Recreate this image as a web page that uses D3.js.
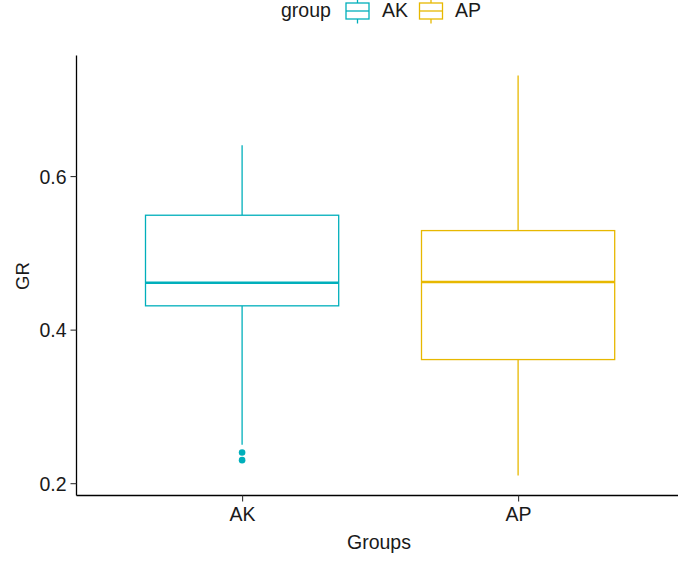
<!DOCTYPE html>
<html>
<head>
<meta charset="utf-8">
<script src="https://cdn.jsdelivr.net/npm/d3@7"></script>
<style>
  html, body { margin: 0; padding: 0; background: #fff; }
  svg { display: block; font-family: "Liberation Sans", Arial, sans-serif; }
</style>
</head>
<body>
<svg id="chart" width="678" height="562"></svg>
<script>
// ---- data ----
const categories   = ["AK", "AP"];
const lowerWhisker = [0.25, 0.21];
const q1           = [0.431, 0.361];
const median       = [0.461, 0.462];
const q3           = [0.549, 0.529];
const upperWhisker = [0.640, 0.731];
const outliersAK   = [0.24, 0.23];
const outliersAP   = [];
const outliers     = [outliersAK, outliersAP];
const colors       = ["#00AFBB", "#E7B800"];
const yTicks       = [0.2, 0.4, 0.6];
const xTitle = "Groups", yTitle = "GR", legendTitle = "group";

// ---- layout ----
const svg = d3.select("#chart");
const panel = { left: 76.5, right: 683.7, top: 55.5, bottom: 495.5 };

const allVals = [].concat(lowerWhisker, upperWhisker, ...outliers);
const vmin = d3.min(allVals), vmax = d3.max(allVals);
const ex = (vmax - vmin) * 0.05;
const y = d3.scaleLinear().domain([vmin - ex, vmax + ex]).range([panel.bottom, panel.top]);
const x = d3.scalePoint().domain(categories).range([panel.left, panel.right]).padding(0.6);
const boxW = x.step() * 0.7;

const boxes = categories.map((c, i) => ({
  cat: c, lo: lowerWhisker[i], q1: q1[i], med: median[i], q3: q3[i], hi: upperWhisker[i],
  out: outliers[i], color: colors[i]
}));

// ---- boxes ----
const g = svg.append("g");
boxes.forEach(b => {
  const cx = x(b.cat);
  const gg = g.append("g").attr("stroke", b.color).attr("fill", "none");
  gg.append("line").attr("x1", cx).attr("x2", cx).attr("y1", y(b.hi)).attr("y2", y(b.q3)).attr("stroke-width", 1.3);
  gg.append("line").attr("x1", cx).attr("x2", cx).attr("y1", y(b.q1)).attr("y2", y(b.lo)).attr("stroke-width", 1.3);
  gg.append("rect").attr("x", cx - boxW / 2).attr("y", y(b.q3))
    .attr("width", boxW).attr("height", y(b.q1) - y(b.q3)).attr("fill", "#fff").attr("stroke-width", 1.3);
  gg.append("line").attr("x1", cx - boxW / 2).attr("x2", cx + boxW / 2)
    .attr("y1", y(b.med)).attr("y2", y(b.med)).attr("stroke-width", 2.6);
  g.selectAll(null).data(b.out).enter().append("circle")
    .attr("cx", cx).attr("cy", d => y(d)).attr("r", 3.3).attr("fill", b.color);
});

// ---- axes ----
const yAxis = svg.append("g").attr("transform", `translate(${panel.left},0)`)
  .call(d3.axisLeft(y).tickValues(yTicks).tickSize(6).tickPadding(4).tickFormat(d3.format(".1f")));
yAxis.select(".domain").attr("stroke", "#000").attr("stroke-width", 1.3)
  .attr("d", `M0,${panel.top}V${panel.bottom}`);
yAxis.selectAll(".tick line").attr("stroke", "#333").attr("stroke-width", 1.1);
yAxis.selectAll(".tick text").attr("font-size", 19.5).attr("fill", "#1a1a1a")
  .attr("font-family", "Liberation Sans, Arial, sans-serif").attr("dy", "0.36em");

const xAxis = svg.append("g").attr("transform", `translate(0,${panel.bottom})`)
  .call(d3.axisBottom(x).tickSize(6).tickPadding(6));
xAxis.select(".domain").attr("stroke", "#000").attr("stroke-width", 1.3)
  .attr("d", `M${panel.left},0H${panel.right}`);
xAxis.selectAll(".tick line").attr("stroke", "#333").attr("stroke-width", 1.1);
xAxis.selectAll(".tick text").attr("font-size", 19.5).attr("fill", "#1a1a1a")
  .attr("font-family", "Liberation Sans, Arial, sans-serif");

// ---- axis titles ----
svg.append("text").attr("x", 379).attr("y", 549).attr("text-anchor", "middle")
  .attr("font-size", 19.5).attr("fill", "#1a1a1a").text(xTitle);
svg.append("text").attr("transform", "translate(29,276) rotate(-90)").attr("text-anchor", "middle")
  .attr("font-size", 18.5).attr("fill", "#1a1a1a").text(yTitle);

// ---- legend ----
const lg = svg.append("g");
lg.append("text").attr("x", 281).attr("y", 17).attr("font-size", 19.5).attr("fill", "#1a1a1a").text(legendTitle);
const keyX = [346, 419.5], labX = [382, 455];
boxes.forEach((b, i) => {
  const k = lg.append("g").attr("stroke", b.color).attr("fill", "none").attr("stroke-width", 1.3);
  const kx = keyX[i], kw = 23, cx = kx + kw / 2;
  k.append("line").attr("x1", cx).attr("x2", cx).attr("y1", 0).attr("y2", 23.5);
  k.append("rect").attr("x", kx).attr("y", 3).attr("width", kw).attr("height", 16).attr("fill", "#fff");
  k.append("line").attr("x1", kx).attr("x2", kx + kw).attr("y1", 11).attr("y2", 11);
  lg.append("text").attr("x", labX[i]).attr("y", 17).attr("font-size", 19.5).attr("fill", "#1a1a1a").text(b.cat);
});
</script>
</body>
</html>
